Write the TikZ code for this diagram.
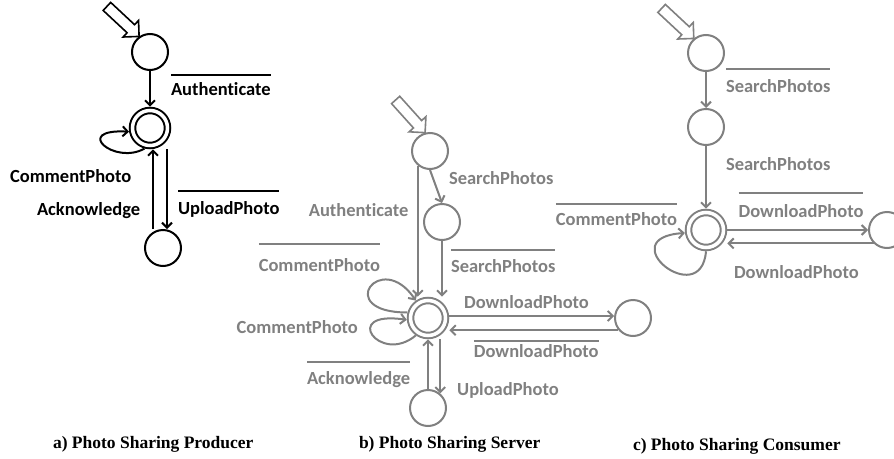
\documentclass[tikz,border=0pt]{standalone}
\usepackage{fontspec}
\newfontfamily\lblfont{Carlito}[Ligatures=NoCommon]
\newfontfamily\capfont{Liberation Serif}
\usepackage{xcolor}
\colorlet{colorProducer}{black}
\colorlet{colorGray}{black!50}
\usepackage{tikz}
\usetikzlibrary{arrows.meta, positioning}
\tikzset{
  state/.style={circle, draw, minimum size=36pt, inner sep=0pt},
  accepting/.style={double, double distance=3.5pt, minimum size=35pt, outer sep=3.8pt},
  msg/.style={font=\lblfont\bfseries\fontsize{18.5}{20}\selectfont, inner sep=0pt, anchor=base west},
  caption/.style={font=\capfont\bfseries\fontsize{17.5}{20}\selectfont, inner sep=0pt, anchor=base west, text=black},
  initarrow/.pic={\draw[line width=1.6pt, line join=miter] (0,0) -- (-11.3,11.3) -- (-11.3,5.5) -- (-44,5.5) -- (-44,-5.5) -- (-11.3,-5.5) -- (-11.3,-11.3) -- cycle;}
}
% overlined (output) message
\newcommand{\outmsg}[2][9pt]{\vbox{\hrule height 2pt\kern#1\hbox{#2}}}

\begin{document}
\begin{tikzpicture}[>={Straight Barb[length=5pt,width=10pt]}, line width=2pt, x=1pt, y=1pt, on grid]
\useasboundingbox (0,0) rectangle (894,-458);
% a) producer
\node[state, colorProducer] (pa0) at (150,-52) {};
\node[state, accepting, colorProducer, below=76pt of pa0] (pa1) {};
\node[state, colorProducer, below right=120pt and 13pt of pa1] (pa2) {};
\pic[colorProducer, rotate=-43] at (pa0.125) {initarrow};
\draw [->, colorProducer] (pa0) -- (pa1) node [msg, midway, xshift=20pt, yshift=-7pt] {\outmsg[7.2pt]{Authenticate}};
\draw [->, colorProducer] (pa1.255) .. controls +(-30,-17) and +(-57,3) .. (pa1.190) node [msg, midway, xshift=-95pt, yshift=-37.5pt] {CommentPhoto};
\draw [->, colorProducer] ([xshift=17pt]pa1.south) -- ([xshift=4pt]pa2.north) node [msg, midway, xshift=10pt, yshift=-25pt] {\outmsg[9.2pt]{UploadPhoto}};
\draw [->, colorProducer] ([xshift=-10pt]pa2.north) -- ([xshift=3pt]pa1.south) node [msg, midway, xshift=-117pt, yshift=-26pt] {Acknowledge};
% b) server
\node[state, colorGray] (sb0) at (430,-151) {};
\node[state, colorGray, below right=71pt and 12pt of sb0] (sb1) {};
\node[state, accepting, colorGray, below left=167pt and 2pt of sb0] (sb2) {};
\node[state, colorGray, right=205pt of sb2] (sb3) {};
\node[state, colorGray, below=90pt of sb2] (sb4) {};
\pic[colorGray, rotate=-48] at (sb0.105) {initarrow};
\draw [->, colorGray] (sb0.south) -- (sb1.north) node [msg, midway, xshift=12pt, yshift=2.5pt] {SearchPhotos};
\draw [->, colorGray] (sb0.230) -- (sb0.230 |- sb2.north) node [msg, midway, xshift=-110pt, yshift=15pt] {Authenticate};
\draw [->, colorGray] (sb1.south) -- (sb1.south |- sb2.north) node [msg, midway, xshift=8pt, yshift=-4pt] {\outmsg[9.2pt]{SearchPhotos}};
\draw [->, colorGray] (sb2.165) .. controls +(-75,0) and +(-35,52) .. (sb2.125) node [msg, midway, xshift=-112.6pt, yshift=16pt] {\outmsg[13.2pt]{CommentPhoto}};
\draw [->, colorGray] (sb2.235) .. controls +(-36,-30) and +(-67,10) .. (sb2.185) node [msg, midway, xshift=-137pt, yshift=2pt] {CommentPhoto};
\draw [->, colorGray] (sb2.east |- sb3.174) -- (sb3.174) node [msg, midway, xshift=-68.6pt, yshift=8pt] {DownloadPhoto};
\draw [->, colorGray] (sb3.220) -- (sb3.220 -| sb2.east) node [msg, midway, xshift=-61pt, yshift=-27pt] {\outmsg[2.2pt]{DownloadPhoto}};
\draw [->, colorGray] (sb4.50 |- sb2.south) -- (sb4.50) node [msg, midway, xshift=16pt, yshift=-29pt] {UploadPhoto};
\draw [->, colorGray] (sb4) -- (sb2) node [msg, midway, xshift=-122pt, yshift=-20pt] {\outmsg[8.2pt]{Acknowledge}};
% c) consumer
\node[state, colorGray] (sc0) at (706,-53) {};
\node[state, colorGray, below=74pt of sc0] (sc1) {};
\node[state, accepting, colorGray, below=103pt of sc1] (sc2) {};
\node[state, colorGray, right=181pt of sc2] (sc3) {};
\pic[colorGray, rotate=-43] at (sc0.130) {initarrow};
\draw [->, colorGray] (sc0) -- (sc1) node [msg, midway, xshift=19pt, yshift=-2pt] {\outmsg[9.2pt]{SearchPhotos}};
\draw [->, colorGray] (sc1) -- (sc2) node [msg, midway, xshift=19pt, yshift=6.5pt] {SearchPhotos};
\draw [->, colorGray] (sc2) -- (sc3) node [msg, midway, xshift=-60pt, yshift=13pt] {\outmsg[10.2pt]{DownloadPhoto}};
\draw [->, colorGray] (sc3.225) -- (sc3.225 -| sc2.east) node [msg, midway, xshift=-67.4pt, yshift=-34.6pt] {DownloadPhoto};
\draw [->, colorGray] (sc2.270) .. controls +(-5,-60) and +(-75,-5) .. (sc2.188) node [msg, midway, xshift=-110.6pt, yshift=41.4pt] {\outmsg[7.2pt]{CommentPhoto}};
% captions
\node[caption] (capa) at (52,-448) {a) Photo Sharing Producer};
\node[caption] (capb) at (358,-448) {b) Photo Sharing Server};
\node[caption] (capc) at (632,-450) {c) Photo Sharing Consumer};
\end{tikzpicture}
\end{document}
